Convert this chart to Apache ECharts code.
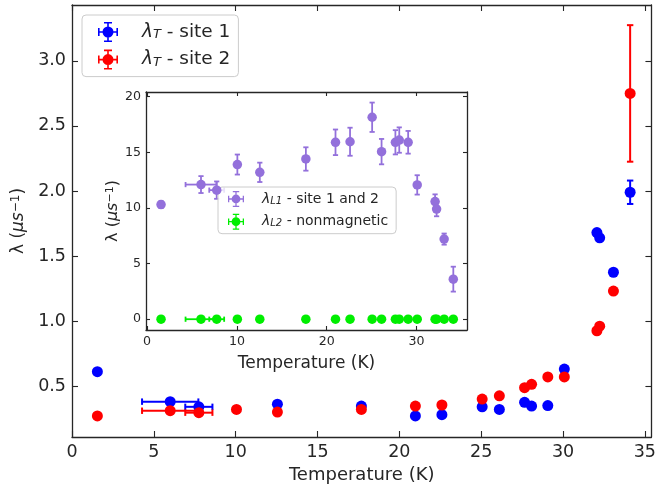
<!DOCTYPE html>
<html>
<head>
<meta charset="utf-8">
<script src="https://cdn.jsdelivr.net/npm/echarts@6/dist/echarts.min.js"></script>
<style>
  html, body { margin: 0; padding: 0; background: #fff; }
  #chart { width: 659px; height: 489px; }
</style>
</head>
<body>
<div id="chart"></div>
<script>
// Measurement temperatures (K) shared by all relaxation-rate series
const temperature = [1.55, 6.0, 7.75, 10.05, 12.55, 17.68, 20.98, 22.6, 25.06, 26.11, 27.65, 28.08, 29.07, 30.08, 32.07, 32.24, 33.08, 34.1];
// Temperature uncertainty (half-width, K)
const temperatureErr = [0, 1.72, 0.83, 0, 0, 0, 0, 0, 0, 0, 0, 0, 0, 0, 0, 0, 0, 0];

// Transverse relaxation rate, site 1 (μs⁻¹)
const lambdaT1 = [0.61, 0.38, 0.34, null, 0.36, 0.346, 0.27, 0.28, 0.34, 0.32, 0.375, 0.346, 0.35, 0.63, 1.68, 1.64, 1.375, 1.99];
const lambdaT1Err = [0, 0, 0, 0, 0, 0, 0, 0, 0, 0, 0, 0, 0, 0, 0, 0, 0, 0.09];
// Transverse relaxation rate, site 2 (μs⁻¹)
const lambdaT2 = [0.27, 0.31, 0.295, 0.32, 0.30, 0.32, 0.346, 0.354, 0.40, 0.425, 0.487, 0.513, 0.57, 0.57, 0.925, 0.96, 1.23, 2.75];
const lambdaT2Err = [0, 0, 0, 0, 0, 0, 0, 0, 0, 0, 0, 0, 0, 0, 0, 0, 0, 0.525];

// Longitudinal relaxation rate, sites 1 and 2 (μs⁻¹)
const lambdaL1 = [10.3, 12.1, 11.6, 13.9, 13.2, 14.4, 15.9, 15.95, 18.15, 15.06, 15.9, 16.1, 15.9, 12.07, 10.57, 9.9, 7.2, 3.6];
const lambdaL1Err = [0.3, 0.76, 0.78, 0.9, 0.87, 1.05, 1.15, 1.26, 1.32, 1.14, 1.09, 1.14, 1.02, 0.87, 0.65, 0.65, 0.5, 1.12];
// Longitudinal relaxation rate, nonmagnetic component (μs⁻¹)
const lambdaL2 = [0, 0, 0, 0, 0, 0, 0, 0, 0, 0, 0, 0, 0, 0, 0, 0, 0, 0];
const lambdaL2Err = [0, 0, 0, 0, 0, 0, 0, 0, 0, 0, 0, 0, 0, 0, 0, 0, 0, 0];

// Tick positions
const mainXTicks = [0, 5, 10, 15, 20, 25, 30, 35];
const mainYTicks = [0.5, 1.0, 1.5, 2.0, 2.5, 3.0];
const insetXTicks = [0, 10, 20, 30];
const insetYTicks = [0, 5, 10, 15, 20];

const FONT = 'DejaVu Sans';
const INK = '#262626';

const pointsOf = (ys) => temperature.map((t, i) => [t, ys[i]]).filter(d => d[1] != null);
const errorsOf = (ys, yErr) => temperature.map((t, i) => [t, ys[i], temperatureErr[i], yErr[i]]).filter(d => d[1] != null);

// Error bars with caps, drawn in data space through the axes
function errorBarRenderer(color, cap, width) {
  return function (params, api) {
    const x = api.value(0), y = api.value(1), xe = api.value(2), ye = api.value(3);
    const c = api.coord([x, y]);
    const style = { stroke: color, lineWidth: width };
    const kids = [];
    if (xe > 0) {
      const l = api.coord([x - xe, y])[0], r = api.coord([x + xe, y])[0];
      kids.push({ type: 'line', shape: { x1: l, y1: c[1], x2: r, y2: c[1] }, style });
      kids.push({ type: 'line', shape: { x1: l, y1: c[1] - cap, x2: l, y2: c[1] + cap }, style });
      kids.push({ type: 'line', shape: { x1: r, y1: c[1] - cap, x2: r, y2: c[1] + cap }, style });
    }
    if (ye > 0) {
      const t = api.coord([x, y + ye])[1], b = api.coord([x, y - ye])[1];
      kids.push({ type: 'line', shape: { x1: c[0], y1: t, x2: c[0], y2: b }, style });
      kids.push({ type: 'line', shape: { x1: c[0] - cap, y1: t, x2: c[0] + cap, y2: t }, style });
      kids.push({ type: 'line', shape: { x1: c[0] - cap, y1: b, x2: c[0] + cap, y2: b }, style });
    }
    return { type: 'group', children: kids };
  };
}

// Legend glyph: marker with crossed capped error bars
const ERR_ICON = 'path://M0 9.2H20V10.8H0Z M0 6H1.6V14H0Z M18.4 6H20V14H18.4Z ' +
  'M9.2 0H10.8V20H9.2Z M6 0H14V1.6H6Z M6 18.4H14V20H6Z ' +
  'M4.5 10A5.5 5.5 0 1 1 15.5 10A5.5 5.5 0 1 1 4.5 10Z';

const S1 = 'λT - site 1', S2 = 'λT - site 2';
const L1 = 'λL1 - site 1 and 2', L2 = 'λL2 - nonmagnetic';
const legendLabel = {
  [S1]: '{sp| }{g|λ}{s|T}{t| - site 1}',
  [S2]: '{sp| }{g|λ}{s|T}{t| - site 2}',
  [L1]: '{sp| }{g|λ}{s|L1}{t| - site 1 and 2}',
  [L2]: '{sp| }{g|λ}{s|L2}{t| - nonmagnetic}'
};

function makeAxis(base) {
  return Object.assign({
    type: 'value',
    splitLine: { show: false },
    axisLine: { show: true, onZero: false, lineStyle: { color: INK, width: 1.3 } },
    axisTick: { show: true, inside: true, length: 5, lineStyle: { color: INK, width: 1.1 } },
    axisLabel: { show: true, color: INK, fontFamily: FONT }
  }, base);
}

const chart = echarts.init(document.getElementById('chart'), null, { renderer: 'canvas' });

const mainX = { min: 0, max: 35.4 };
const mainY = { min: 0.108, max: 3.43 };
const insetX = { min: -0.125, max: 35.625 };
const insetY = { min: -0.97, max: 20.42 };

const option = {
  backgroundColor: '#fff',
  animation: false,
  textStyle: { fontFamily: FONT },
  grid: [
    { left: 72, right: 2, top: 5, bottom: 52, show: false },
    { left: 146, right: 192, top: 92, bottom: 159, show: true, backgroundColor: '#fff', borderWidth: 0 }
  ],
  xAxis: [
    makeAxis({ gridIndex: 0, position: 'bottom', ...mainX,
      axisTick: { show: true, inside: true, length: 6, customValues: mainXTicks, lineStyle: { color: INK, width: 1.1 } },
      axisLabel: { customValues: mainXTicks, fontSize: 17.5, margin: 6, color: INK, fontFamily: FONT },
      name: 'Temperature (K)', nameLocation: 'middle', nameGap: 24,
      nameTextStyle: { fontSize: 18, color: INK, fontFamily: FONT } }),
    makeAxis({ gridIndex: 0, position: 'top', ...mainX,
      axisTick: { show: true, inside: true, length: 6, customValues: mainXTicks, lineStyle: { color: INK, width: 1.1 } },
      axisLabel: { show: false } }),
    makeAxis({ gridIndex: 1, position: 'bottom', ...insetX,
      axisTick: { show: true, inside: true, length: 4, customValues: insetXTicks, lineStyle: { color: INK, width: 1.1 } },
      axisLabel: { customValues: insetXTicks, fontSize: 12.6, margin: 5, color: INK, fontFamily: FONT },
      name: 'Temperature (K)', nameLocation: 'middle', nameGap: 25,
      nameTextStyle: { fontSize: 17, color: INK, fontFamily: FONT } }),
    makeAxis({ gridIndex: 1, position: 'top', ...insetX,
      axisTick: { show: true, inside: true, length: 4, customValues: insetXTicks, lineStyle: { color: INK, width: 1.1 } },
      axisLabel: { show: false } })
  ],
  yAxis: [
    makeAxis({ gridIndex: 0, position: 'left', ...mainY,
      axisTick: { show: true, inside: true, length: 6, customValues: mainYTicks, lineStyle: { color: INK, width: 1.1 } },
      axisLabel: { customValues: mainYTicks, fontSize: 17.5, margin: 6, color: INK, fontFamily: FONT,
        formatter: v => v.toFixed(1) },
      name: '{n|λ (}{i|μs}{p|−1}{n|)}', nameLocation: 'middle', nameGap: 45,
      nameTextStyle: { color: INK, fontFamily: FONT, rich: {
        n: { fontSize: 17, color: INK, fontFamily: FONT },
        i: { fontSize: 17, color: INK, fontFamily: FONT, fontStyle: 'italic' },
        p: { fontSize: 12, color: INK, fontFamily: FONT, verticalAlign: 'top', lineHeight: 10 }
      } } }),
    makeAxis({ gridIndex: 0, position: 'right', ...mainY,
      axisTick: { show: true, inside: true, length: 6, customValues: mainYTicks, lineStyle: { color: INK, width: 1.1 } },
      axisLabel: { show: false } }),
    makeAxis({ gridIndex: 1, position: 'left', ...insetY,
      axisTick: { show: true, inside: true, length: 4, customValues: insetYTicks, lineStyle: { color: INK, width: 1.1 } },
      axisLabel: { customValues: insetYTicks, fontSize: 12.6, margin: 5, color: INK, fontFamily: FONT },
      name: '{n|λ (}{i|μs}{p|−1}{n|)}', nameLocation: 'middle', nameGap: 25,
      nameTextStyle: { color: INK, fontFamily: FONT, rich: {
        n: { fontSize: 16, color: INK, fontFamily: FONT },
        i: { fontSize: 16, color: INK, fontFamily: FONT, fontStyle: 'italic' },
        p: { fontSize: 11, color: INK, fontFamily: FONT, verticalAlign: 'top', lineHeight: 9 }
      } } }),
    makeAxis({ gridIndex: 1, position: 'right', ...insetY,
      axisTick: { show: true, inside: true, length: 4, customValues: insetYTicks, lineStyle: { color: INK, width: 1.1 } },
      axisLabel: { show: false } })
  ],
  legend: [
    {
      data: [S1, S2], orient: 'vertical', left: 82, top: 15,
      padding: [7, 8, 7, 16], itemGap: 7.6, itemWidth: 20, itemHeight: 20,
      icon: ERR_ICON, borderColor: '#cccccc', borderWidth: 1, borderRadius: 4,
      backgroundColor: 'rgba(255,255,255,0.8)',
      formatter: n => legendLabel[n],
      textStyle: { color: INK, fontFamily: FONT, rich: {
        sp: { width: 19, fontSize: 10 },
        g: { fontSize: 18.5, fontStyle: 'italic', color: INK, fontFamily: FONT },
        s: { fontSize: 13, fontStyle: 'italic', color: INK, fontFamily: FONT, verticalAlign: 'bottom', lineHeight: 8 },
        t: { fontSize: 18.5, color: INK, fontFamily: FONT }
      } }
    },
    {
      data: [L1, L2], orient: 'vertical', left: 218, top: 187,
      padding: [4, 8, 4, 10], itemGap: 6.7, itemWidth: 16, itemHeight: 16,
      icon: ERR_ICON, borderColor: '#cccccc', borderWidth: 1, borderRadius: 4,
      backgroundColor: 'rgba(255,255,255,0.8)',
      formatter: n => legendLabel[n],
      textStyle: { color: INK, fontFamily: FONT, rich: {
        sp: { width: 13, fontSize: 8 },
        g: { fontSize: 14, fontStyle: 'italic', color: INK, fontFamily: FONT },
        s: { fontSize: 10, fontStyle: 'italic', color: INK, fontFamily: FONT, verticalAlign: 'bottom', lineHeight: 6 },
        t: { fontSize: 14, color: INK, fontFamily: FONT }
      } }
    }
  ],
  series: [
    { type: 'custom', xAxisIndex: 0, yAxisIndex: 0, z: 3, silent: true,
      renderItem: errorBarRenderer('#0000ff', 3.2, 2), data: errorsOf(lambdaT1, lambdaT1Err) },
    { type: 'custom', xAxisIndex: 0, yAxisIndex: 0, z: 3, silent: true,
      renderItem: errorBarRenderer('#ff0000', 3.2, 2), data: errorsOf(lambdaT2, lambdaT2Err) },
    { name: S1, type: 'scatter', xAxisIndex: 0, yAxisIndex: 0, z: 4, symbol: 'circle', symbolSize: 11,
      itemStyle: { color: '#0000ff', opacity: 1 }, data: pointsOf(lambdaT1) },
    { name: S2, type: 'scatter', xAxisIndex: 0, yAxisIndex: 0, z: 5, symbol: 'circle', symbolSize: 11,
      itemStyle: { color: '#ff0000', opacity: 1 }, data: pointsOf(lambdaT2) },

    { type: 'custom', xAxisIndex: 2, yAxisIndex: 2, z: 3, silent: true,
      renderItem: errorBarRenderer('#9370db', 2.6, 1.8), data: errorsOf(lambdaL1, lambdaL1Err) },
    { type: 'custom', xAxisIndex: 2, yAxisIndex: 2, z: 3, silent: true,
      renderItem: errorBarRenderer('#00ee00', 2.6, 1.8), data: errorsOf(lambdaL2, lambdaL2Err) },
    { name: L1, type: 'scatter', xAxisIndex: 2, yAxisIndex: 2, z: 4, symbol: 'circle', symbolSize: 9.5,
      itemStyle: { color: '#9370db', opacity: 1 }, data: pointsOf(lambdaL1) },
    { name: L2, type: 'scatter', xAxisIndex: 2, yAxisIndex: 2, z: 5, symbol: 'circle', symbolSize: 9.5,
      itemStyle: { color: '#00ee00', opacity: 1 }, data: pointsOf(lambdaL2) }
  ]
};

chart.setOption(option);
</script>
</body>
</html>
